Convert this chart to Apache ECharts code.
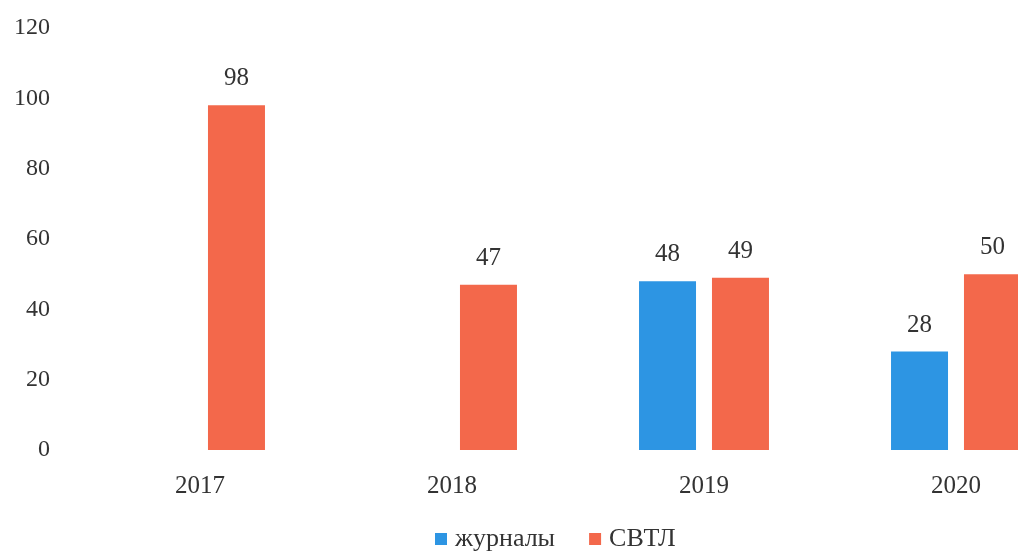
<!DOCTYPE html>
<html>
<head>
<meta charset="utf-8">
<script src="https://cdn.jsdelivr.net/npm/echarts@6/dist/echarts.min.js"></script>
<style>
  html, body { margin: 0; padding: 0; background: #fff; }
  #chart { width: 1018px; height: 552px; }
</style>
</head>
<body>
<div id="chart"></div>
<script>
// Журналы и СВТЛ по годам

const years = ['2017', '2018', '2019', '2020'];
const journals = [null, null, 48, 28];
const svtl = [98, 47, 49, 50];
const yTicks = { min: 0, max: 120, step: 20 };

const FONT = '"Liberation Serif", "DejaVu Serif", serif';
const TEXT = '#333333';

const chart = echarts.init(document.getElementById('chart'));

const label = {
  show: true,
  position: 'top',
  distance: 14,
  color: TEXT,
  fontFamily: FONT,
  fontSize: 25,
};

chart.setOption({
  animation: false,
  backgroundColor: '#ffffff',
  textStyle: { fontFamily: FONT },
  // the plot runs past the right edge, as in the original
  grid: { left: 74, width: 1008, top: 28, height: 422, outerBoundsMode: 'none', containLabel: false },
  legend: {
    top: 521,
    left: 430,
    itemWidth: 12,
    itemHeight: 12,
    itemGap: 34,
    icon: 'rect',
    textStyle: { color: TEXT, fontFamily: FONT, fontSize: 26, padding: [0, 0, 0, 3] },
    data: ['журналы', 'СВТЛ'],
  },
  xAxis: {
    type: 'category',
    data: years,
    axisLine: { show: false },
    axisTick: { show: false },
    axisLabel: { color: TEXT, fontFamily: FONT, fontSize: 25, margin: 24 },
  },
  yAxis: {
    type: 'value',
    min: yTicks.min,
    max: yTicks.max,
    interval: yTicks.step,
    axisLine: { show: false },
    axisTick: { show: false },
    splitLine: { show: false },
    axisLabel: { color: TEXT, fontFamily: FONT, fontSize: 24, margin: 24 },
  },
  series: [
    {
      name: 'журналы',
      type: 'bar',
      data: journals,
      barWidth: 57,
      barGap: '28%',
      itemStyle: { color: '#2d95e3' },
      label: label,
    },
    {
      name: 'СВТЛ',
      type: 'bar',
      data: svtl,
      barWidth: 57,
      barGap: '28%',
      itemStyle: { color: '#f3684b' },
      label: label,
    },
  ],
});
</script>
</body>
</html>
